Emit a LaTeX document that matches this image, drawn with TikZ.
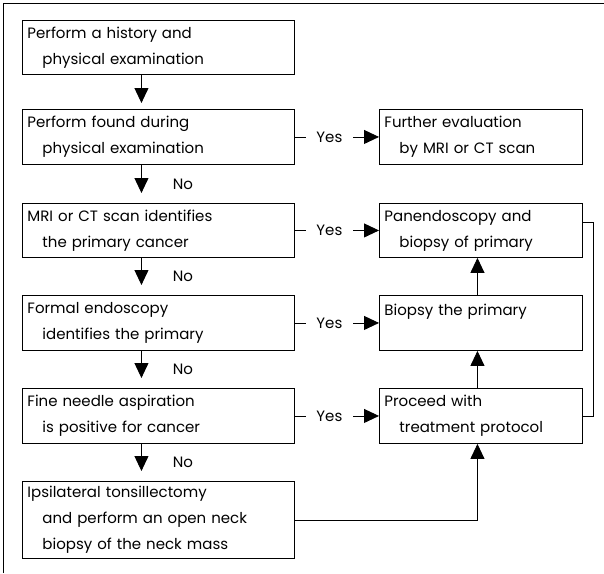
\documentclass[tikz,border=0pt]{standalone}
\usepackage{fontspec}
\setmainfont{Poppins}
\usetikzlibrary{arrows.meta}
\begin{document}
\begin{tikzpicture}[x=1pt,y=-1pt,
  every node/.style={font=\fontsize{15}{26}\selectfont},
  box/.style={draw, line width=0.9pt, anchor=north west, align=left,
    inner xsep=5pt, inner ysep=0pt},
  lbox/.style={box, minimum width=272pt, text width=262pt},
  rbox/.style={box, minimum width=203pt, text width=193pt},
  arr/.style={line width=0.9pt, -{Triangle[width=14pt,length=15pt]}},
  ln/.style={line width=0.9pt},
  yes/.style={fill=white, inner xsep=0pt, minimum width=47pt, pos=0.41}
]
\useasboundingbox (0,0) rectangle (604,573);
\draw[ln] (3,573) -- (3,3) -- (604,3);

\def\ind{\hspace*{15pt}}
\node[lbox, minimum height=54pt] (A) at (22,20) {Perform a history and\\\ind physical examination};
\node[lbox, minimum height=55pt] (B) at (22,109) {Perform found during\\\ind physical examination};
\node[lbox, minimum height=54pt] (C) at (22,203) {MRI or CT scan identifies\\\ind the primary cancer};
\node[lbox, minimum height=55pt] (D) at (22,295) {Formal endoscopy\\\ind identifies the primary};
\node[lbox, minimum height=55pt] (E) at (22,388) {Fine needle aspiration\\\ind is positive for cancer};
\node[lbox, minimum height=77pt] (F) at (22,481) {Ipsilateral tonsillectomy\\\ind and perform an open neck\\\ind biopsy of the neck mass};

\node[rbox, minimum height=55pt] (G) at (379,109) {Further evaluation\\\ind by MRI or CT scan};
\node[rbox, minimum height=54pt] (P) at (379,203) {Panendoscopy and\\\ind biopsy of primary};
\node[rbox, minimum height=55pt] (Q) at (379,295) {Biopsy the primary\\\mbox{}};
\node[rbox, minimum height=55pt] (R) at (379,388) {Proceed with\\\ind treatment protocol};

% left column downward arrows
\draw[arr] ([xshift=-17pt]A.south) -- ([xshift=-17pt,yshift=6pt]B.north);
\draw[arr] ([xshift=-17pt]B.south) -- ([xshift=-17pt,yshift=10pt]C.north);
\draw[arr] ([xshift=-17pt]C.south) -- ([xshift=-17pt,yshift=10pt]D.north);
\draw[arr] ([xshift=-17pt]D.south) -- ([xshift=-17pt,yshift=10pt]E.north);
\draw[arr] ([xshift=-17pt]E.south) -- ([xshift=-17pt,yshift=10pt]F.north);
\node (n1) at (183,184) {No};
\node (n2) at (183,276) {No};
\node (n3) at (183,369) {No};
\node (n4) at (183,462) {No};

% yes arrows
\draw[arr] (B.east) -- (G.west) node[yes] (y1) {Yes};
\draw[arr] (C.east) -- (P.west) node[yes] (y2) {Yes};
\draw[arr] (D.east) -- (Q.west) node[yes] (y3) {Yes};
\draw[arr] (E.east) -- (R.west) node[yes] (y4) {Yes};

% right column
\draw[arr] ([xshift=-3.5pt]Q.north) -- ([xshift=-3.5pt]P.south);
\draw[arr] ([xshift=-3.5pt]R.north) -- ([xshift=-3.5pt]Q.south);
\draw[arr] (F.east) -| ([xshift=-3.5pt]R.south);
\draw[ln] ([yshift=8pt]P.east) -- ++(11pt,0) coordinate (c1) |- (R.east);
\end{tikzpicture}
\end{document}
